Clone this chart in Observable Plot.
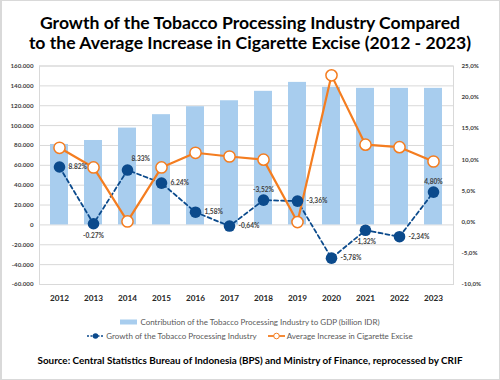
<!DOCTYPE html>
<html><head><meta charset="utf-8">
<script src="https://cdn.jsdelivr.net/npm/d3@7"></script>
<script src="https://cdn.jsdelivr.net/npm/@observablehq/plot@0.6"></script>
<style>
body{margin:0;background:#fff;font-family:Lato,"Open Sans",sans-serif;}
#wrap{position:relative;width:500px;height:380px;overflow:hidden;background:#fff;}
#frame{position:absolute;left:0;top:0;width:500px;height:380px;box-sizing:border-box;border:1px solid #d9d9d9;border-left:2px solid #d9d9d9;pointer-events:none;}
#title{position:absolute;left:0;top:13px;width:500px;text-align:center;font-weight:700;font-size:17.6px;line-height:20px;color:#000;}
#chart{position:absolute;left:0;top:58px;}
.lrow{position:absolute;left:0;width:500px;display:flex;justify-content:center;align-items:center;font-size:8px;color:#595959;white-space:nowrap;}
.lrow span{display:inline-flex;align-items:center;}
#source{position:absolute;left:0;top:354px;width:500px;text-align:center;font-weight:700;font-size:9.9px;color:#000;}
</style></head>
<body>
<div id="wrap">
  <div id="title">Growth of the Tobacco Processing Industry Compared<br>to the Average Increase in Cigarette Excise (2012 - 2023)</div>
  <div id="chart"></div>
  <div class="lrow" style="top:316px;height:12px;">
    <span><svg width="17" height="6" style="margin-right:3px"><rect width="17" height="5" y="0.5" fill="#a8cdee"/></svg>Contribution of the Tobacco Processing Industry to GDP (billion IDR)</span>
  </div>
  <div class="lrow" style="top:330px;height:12px;">
    <span style="margin-right:11px"><svg width="17" height="8" style="margin-right:2px"><line x1="0" x2="17" y1="4" y2="4" stroke="#0b4a8c" stroke-width="1.5" stroke-dasharray="2,1.5"/><circle cx="8.5" cy="4" r="2.8" fill="#0b4a8c"/></svg>Growth of the Tobacco Processing Industry</span>
    <span><svg width="17" height="8" style="margin-right:2px"><line x1="0" x2="17" y1="4" y2="4" stroke="#f47d20" stroke-width="1.8"/><circle cx="8.5" cy="4" r="2.8" fill="#fff" stroke="#f47d20" stroke-width="1"/></svg>Average Increase in Cigarette Excise</span>
  </div>
  <div id="source">Source: Central Statistics Bureau of Indonesia (BPS) and Ministry of Finance, reprocessed by CRIF</div>
  <div id="frame"></div>
</div>
<script>
const years = ["2012","2013","2014","2015","2016","2017","2018","2019","2020","2021","2022","2023"];
const gdpContribution = [81000, 85000, 97500, 111000, 119000, 125000, 134500, 143500, 138500, 137500, 137500, 137500];
const industryGrowth = [8.82, -0.27, 8.33, 6.24, 1.58, -0.64, 3.52, 3.36, -5.78, -1.32, -2.34, 4.80];
const growthLabels = ["8.82%","-0.27%","8.33%","6.24%","1,58%","-0,64%","-3,52%","-3,36%","-5,78%","-1,32%","-2,34%","4,80%"];
const exciseIncrease = [11.9, 8.75, 0.1, 8.75, 11.1, 10.5, 10.0, 0.0, 23.5, 12.4, 12.0, 9.7];
const leftTicks = [-60000,-40000,-20000,0,20000,40000,60000,80000,100000,120000,140000,160000];
const rightTicks = [-10,-5,0,5,10,15,20,25];

// label placement (styling, not data)
const labelPlacement = ["right","below","aboveRight","right","right","right","above","right","right","below","right","above"];

// right (percent) axis mapped onto left axis units
const leftDomain = [-60000, 160000];
const rightDomain = [-10, 25];
const toLeft = p => leftDomain[0] + (p - rightDomain[0]) / (rightDomain[1] - rightDomain[0]) * (leftDomain[1] - leftDomain[0]);
const fromLeft = v => rightDomain[0] + (v - leftDomain[0]) / (leftDomain[1] - leftDomain[0]) * (rightDomain[1] - rightDomain[0]);

const loc = d3.formatLocale({decimal: ",", thousands: ".", grouping: [3], currency: ["", ""], minus: "-"});
const fmtLeft = loc.format(",");
const fmtRight = v => { const p = Math.round(fromLeft(v) * 10) / 10; return loc.format(".1f")(p) + "%"; };

const rows = years.map((y, i) => ({
  year: y, gdp: gdpContribution[i],
  growth: toLeft(industryGrowth[i]), excise: toLeft(exciseIncrease[i]),
  label: growthLabels[i], pos: labelPlacement[i]
}));

const blue = "#0b4a8c", orange = "#f47d20", labelColor = "#404040";
const lab = (pos, opts) => Plot.text(rows.filter(d => d.pos === pos), Object.assign({x: "year", y: "growth", text: "label", fontSize: 6.6, fontWeight: 700, fill: labelColor}, opts));

const chart = Plot.plot({
  width: 500, height: 250,
  marginTop: 7.5, marginBottom: 24, marginLeft: 39, marginRight: 47,
  style: {fontFamily: "Lato, 'Open Sans', sans-serif", background: "transparent"},
  x: {type: "band", domain: years, paddingInner: 0.47, paddingOuter: 0.235, axis: null},
  y: {domain: leftDomain, axis: null},
  marks: [
    Plot.gridY(leftTicks, {stroke: "#d9d9d9", strokeOpacity: 1, strokeWidth: 1}),
    Plot.frame({stroke: "#d9d9d9"}),
    Plot.barY(rows, {x: "year", y: "gdp", fill: "#a8cdee"}),
    Plot.axisY(leftTicks, {anchor: "left", tickSize: 0, tickPadding: 6, tickFormat: fmtLeft, fontSize: 6.2, fontWeight: 700, color: labelColor, label: null}),
    Plot.axisY(rightTicks.map(toLeft), {anchor: "right", tickSize: 0, tickPadding: 8, tickFormat: fmtRight, fontSize: 6.2, fontWeight: 700, color: labelColor, label: null}),
    Plot.axisX(years, {anchor: "bottom", tickSize: 0, tickPadding: 11, fontSize: 8.2, fontWeight: 700, color: "#262626", label: null}),
    Plot.line(rows, {x: "year", y: "growth", stroke: blue, strokeWidth: 1.8, strokeDasharray: "4,3"}),
    Plot.line(rows, {x: "year", y: "excise", stroke: orange, strokeWidth: 2.2}),
    Plot.dot(rows, {x: "year", y: "growth", r: 5.8, fill: blue, stroke: "none"}),
    Plot.dot(rows, {x: "year", y: "excise", r: 5.6, fill: "#fff", stroke: orange, strokeWidth: 1.5}),
    lab("right", {dx: 9, textAnchor: "start"}),
    lab("below", {dy: 12}),
    lab("above", {dy: -10}),
    lab("aboveRight", {dx: 4, dy: -11, textAnchor: "start"})
  ]
});
document.getElementById("chart").append(chart);
</script>
</body></html>
